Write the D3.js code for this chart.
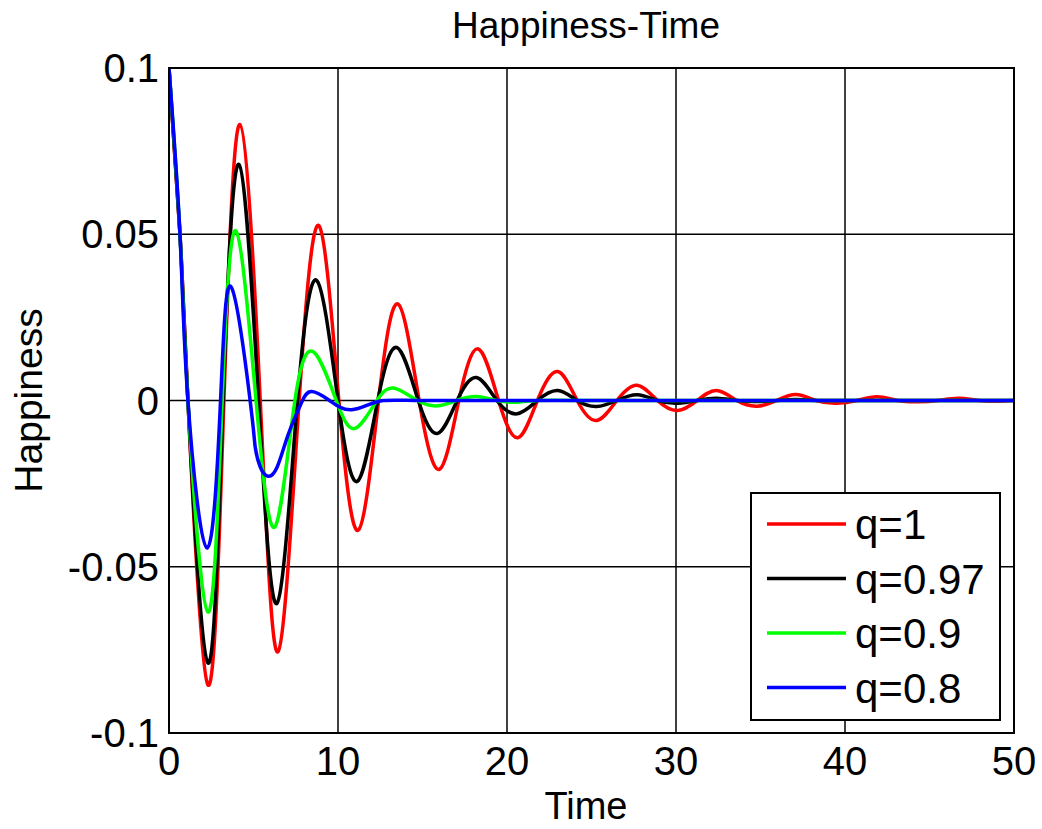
<!DOCTYPE html>
<html>
<head>
<meta charset="utf-8">
<title>Happiness-Time</title>
<style>
  body { margin: 0; background: #fff; }
  svg { font-family: "Liberation Sans", Arial, Helvetica, sans-serif; }
</style>
<script src="https://d3js.org/d3.v7.min.js"></script>
</head>
<body>
<svg></svg>
<script>
// values: extrema and zero crossings of each curve
const labels = ["q=1", "q=0.97", "q=0.9", "q=0.8"];
const colors = ["#ff0000", "#000000", "#00ff00", "#0000ff"];

const tRed = [0, 0.65, 1.12, 2.3, 3.25, 4.2, 5.4, 6.45, 7.7, 8.88, 10.05, 11.2, 12.4, 13.55, 14.8, 16.0, 17.15, 18.3, 19.5, 20.65, 21.8, 23.0, 24.15, 25.3, 26.5, 27.7, 28.9, 30.1, 31.25, 32.4, 33.6, 34.8, 35.95, 37.1, 38.3, 39.5, 40.7, 41.9, 43.1, 44.3, 45.5, 46.7, 47.9, 49.0, 50];
const vRed = [0.1, 0.05, 0, -0.0855, 0, 0.083, 0, -0.0756, 0, 0.0525, 0, -0.039, 0, 0.029, 0, -0.0207, 0, 0.0155, 0, -0.0112, 0, 0.0087, 0, -0.006, 0, 0.0046, 0, -0.003, 0, 0.003, 0, -0.0017, 0, 0.0018, 0, -0.0008, 0, 0.0011, 0, -0.0004, 0, 0.0007, 0, -0.0002, 0];

const tBlack = [0, 0.65, 1.12, 2.3, 3.2, 4.14, 5.3, 6.39, 7.6, 8.76, 10.0, 11.15, 12.35, 13.5, 14.75, 15.9, 17.05, 18.2, 19.4, 20.6, 21.8, 23.0, 24.15, 25.3, 26.5, 27.7, 28.9, 30.1, 31.25, 32.4, 33.6, 34.8, 36.0, 37.1, 38.3, 41, 44, 47, 50];
const vBlack = [0.1, 0.05, 0, -0.0789, 0, 0.071, 0, -0.061, 0, 0.036, 0, -0.0243, 0, 0.0159, 0, -0.0099, 0, 0.0069, 0, -0.004, 0, 0.003, 0, -0.0018, 0, 0.0017, 0, -0.0008, 0, 0.0007, 0, -0.0003, 0, 0.0003, 0, 0, 0, 0, 0];

const tGreen = [0, 0.65, 1.12, 2.3, 3.15, 3.96, 5.15, 6.27, 7.45, 8.6, 9.9, 11.0, 12.3, 13.35, 14.7, 15.9, 17.0, 18.2, 19.4, 20.6, 21.8, 25, 30, 35, 40, 45, 50];
const vGreen = [0.1, 0.05, 0, -0.0636, 0, 0.051, 0, -0.038, 0, 0.0144, 0, -0.0084, 0, 0.0037, 0, -0.0016, 0, 0.0012, 0, -0.0005, 0, 0, 0, 0, 0, 0, 0];

const tBlue = [0, 0.65, 1.12, 2.25, 3.05, 3.67, 4.8, 5.1, 5.4, 5.86, 6.4, 7.0, 7.55, 7.9, 8.45, 9.5, 10.1, 10.8, 11.7, 12.7, 15, 20, 25, 30, 35, 40, 45, 50];
const vBlue = [0.1, 0.05, 0, -0.0444, 0, 0.0342, 0, -0.014, -0.02, -0.0228, -0.02, -0.011, -0.004, 0, 0.0027, 0, -0.002, -0.0028, -0.0015, 0, 0, 0, 0, 0, 0, 0, 0, 0];

const xTicks = [0, 10, 20, 30, 40, 50];
const yTicks = [-0.1, -0.05, 0, 0.05, 0.1];

const W = 1042, H = 829;
const m = { left: 169, right: 1014, top: 68, bottom: 733 };

const svg = d3.select("svg").attr("width", W).attr("height", H);
svg.append("rect").attr("width", W).attr("height", H).attr("fill", "#fff");

const x = d3.scaleLinear().domain([0, 50]).range([m.left, m.right]);
const y = d3.scaleLinear().domain([-0.1, 0.1]).range([m.bottom, m.top]);

// grid
const grid = svg.append("g").attr("stroke", "#000").attr("stroke-width", 1.5);
grid.selectAll(".gx").data(xTicks).enter().append("line")
  .attr("x1", d => x(d)).attr("x2", d => x(d))
  .attr("y1", m.top).attr("y2", m.bottom);
grid.selectAll(".gy").data(yTicks).enter().append("line")
  .attr("x1", m.left).attr("x2", m.right)
  .attr("y1", d => y(d)).attr("y2", d => y(d));

// curves
const series = [
  { t: tRed, v: vRed },
  { t: tBlack, v: vBlack },
  { t: tGreen, v: vGreen },
  { t: tBlue, v: vBlue }
];
const line = d3.line()
  .x(d => x(d[0]))
  .y(d => y(d[1]))
  .curve(d3.curveNatural);

const plot = svg.append("g");
plot.append("clipPath").attr("id", "clip")
  .append("rect").attr("x", m.left).attr("y", m.top - 4)
  .attr("width", m.right - m.left).attr("height", m.bottom - m.top + 8);
series.forEach((s, i) => {
  plot.append("path")
    .attr("d", line(d3.zip(s.t, s.v)))
    .attr("fill", "none")
    .attr("stroke", colors[i])
    .attr("stroke-width", 3.5)
    .attr("stroke-linejoin", "round")
    .attr("clip-path", "url(#clip)");
});

// frame
svg.append("rect")
  .attr("x", m.left).attr("y", m.top)
  .attr("width", m.right - m.left).attr("height", m.bottom - m.top)
  .attr("fill", "none").attr("stroke", "#000").attr("stroke-width", 2);

// tick labels
svg.selectAll(".xt").data(xTicks).enter().append("text")
  .attr("x", d => x(d)).attr("y", m.bottom + 42)
  .attr("text-anchor", "middle").attr("font-size", 40)
  .text(d => d);
svg.selectAll(".yt").data(yTicks).enter().append("text")
  .attr("x", m.left - 10).attr("y", d => y(d) + 14)
  .attr("text-anchor", "end").attr("font-size", 40)
  .text(d => d);

// titles
svg.append("text").attr("x", 586).attr("y", 38)
  .attr("text-anchor", "middle").attr("font-size", 37).text("Happiness-Time");
svg.append("text").attr("x", 586).attr("y", 819)
  .attr("text-anchor", "middle").attr("font-size", 38).text("Time");
svg.append("text")
  .attr("transform", "translate(42," + ((m.top + m.bottom) / 2) + ") rotate(-90)")
  .attr("text-anchor", "middle").attr("font-size", 39).text("Happiness");

// legend
const lg = svg.append("g").attr("transform", "translate(751,493)");
lg.append("rect").attr("width", 249).attr("height", 227)
  .attr("fill", "#fff").attr("stroke", "#000").attr("stroke-width", 2);
labels.forEach((lab, i) => {
  const cy = 31 + i * 54.5;
  lg.append("line").attr("x1", 16).attr("x2", 95).attr("y1", cy).attr("y2", cy)
    .attr("stroke", colors[i]).attr("stroke-width", 3.5);
  lg.append("text").attr("x", 104).attr("y", cy + 15)
    .attr("font-size", 42).text(lab);
});
</script>
</body>
</html>
